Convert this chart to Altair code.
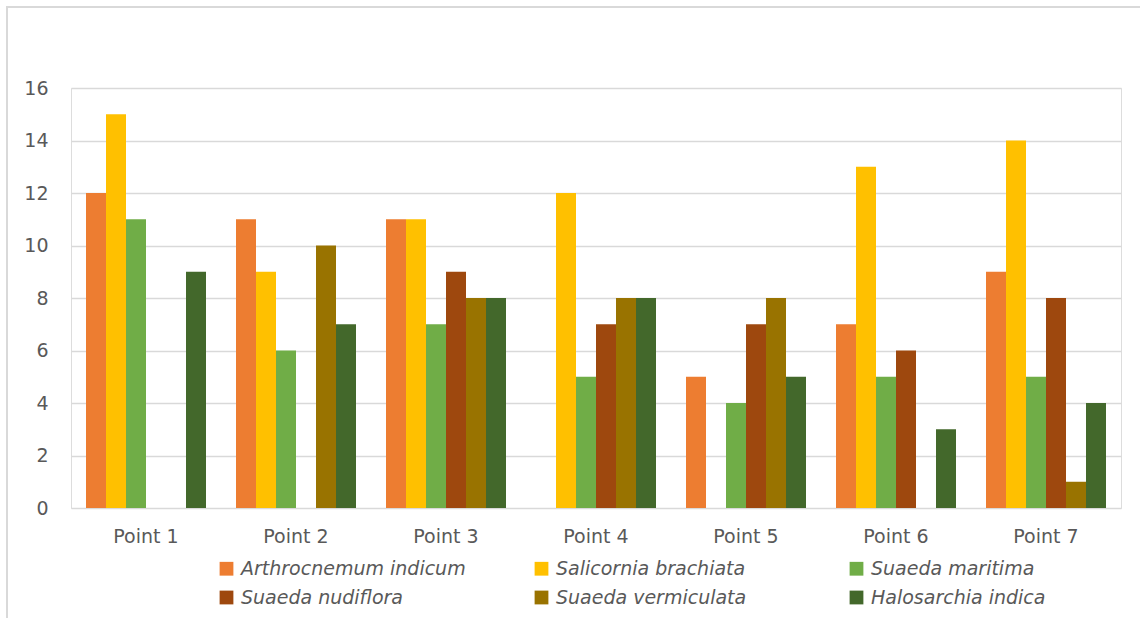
import altair as alt
import pandas as pd

points = ["Point 1", "Point 2", "Point 3", "Point 4", "Point 5", "Point 6", "Point 7"]
species = ["Arthrocnemum indicum", "Salicornia brachiata", "Suaeda maritima",
           "Suaeda nudiflora", "Suaeda vermiculata", "Halosarchia indica"]
colors = ["#ED7D31", "#FFC000", "#70AD47", "#9E480E", "#997300", "#43682B"]

arthrocnemum = [12, 11, 11, 0, 5, 7, 9]
salicornia = [15, 9, 11, 12, 0, 13, 14]
maritima = [11, 6, 7, 5, 4, 5, 5]
nudiflora = [0, 0, 9, 7, 7, 6, 8]
vermiculata = [0, 10, 8, 8, 8, 0, 1]
halosarchia = [9, 7, 8, 8, 5, 3, 4]

series = [arthrocnemum, salicornia, maritima, nudiflora, vermiculata, halosarchia]
rows = []
for sp, vals in zip(species, series):
    for p, v in zip(points, vals):
        rows.append({"Point": p, "Species": sp, "Value": v})
df = pd.DataFrame(rows)

# legend fills column by column: reorder so rows read as in the reference
legend_order = [0, 3, 1, 4, 2, 5]
leg_domain = [species[i] for i in legend_order]
leg_range = [colors[i] for i in legend_order]

W, H = 1050, 420
PL, PT = 71, 88
FONT = "DejaVu Sans"
GREY = "#595959"

bars = alt.Chart(df).mark_bar().encode(
    x=alt.X("Point:N", sort=points,
            scale=alt.Scale(paddingInner=0.2, paddingOuter=0.1),
            axis=alt.Axis(title=None, labelAngle=0, ticks=False, domain=False,
                          labelFontSize=19, labelColor=GREY, labelPadding=19,
                          labelFont=FONT, grid=False)),
    xOffset=alt.XOffset("Species:N", sort=species),
    y=alt.Y("Value:Q", scale=alt.Scale(domain=[0, 16], nice=False),
            axis=alt.Axis(title=None, values=list(range(0, 17, 2)), ticks=False,
                          domain=False, labelFontSize=19, labelColor=GREY,
                          labelPadding=23, labelFont=FONT,
                          gridColor="#d9d9d9", gridWidth=1.3)),
    color=alt.Color("Species:N",
                    scale=alt.Scale(domain=leg_domain, range=leg_range),
                    legend=alt.Legend(title=None, orient="none", legendX=146, legendY=471,
                                      columns=3, symbolType="square", symbolSize=190,
                                      symbolStrokeWidth=0, labelFontSize=19,
                                      labelFontStyle="italic", labelFont=FONT,
                                      labelColor=GREY, columnPadding=66, labelOffset=5,
                                      rowPadding=9, gridAlign="all", labelLimit=400)),
)

border = alt.Chart(pd.DataFrame({"a": [0]})).mark_rect(
    fill=None, stroke="#d9d9d9", strokeWidth=2
).encode(
    x=alt.value(7 - PL), x2=alt.value(1200 - PL),
    y=alt.value(7 - PT), y2=alt.value(700 - PT),
)

chart = alt.layer(border, bars).properties(
    width=W, height=H,
    padding={"left": PL, "top": PT, "right": 1140 - PL - W, "bottom": 618 - PT - H},
    autosize=alt.AutoSizeParams(type="none"),
).configure_view(stroke=None).configure(background="white")

chart.save("out.html", embed_options={"renderer": "svg", "actions": False})
